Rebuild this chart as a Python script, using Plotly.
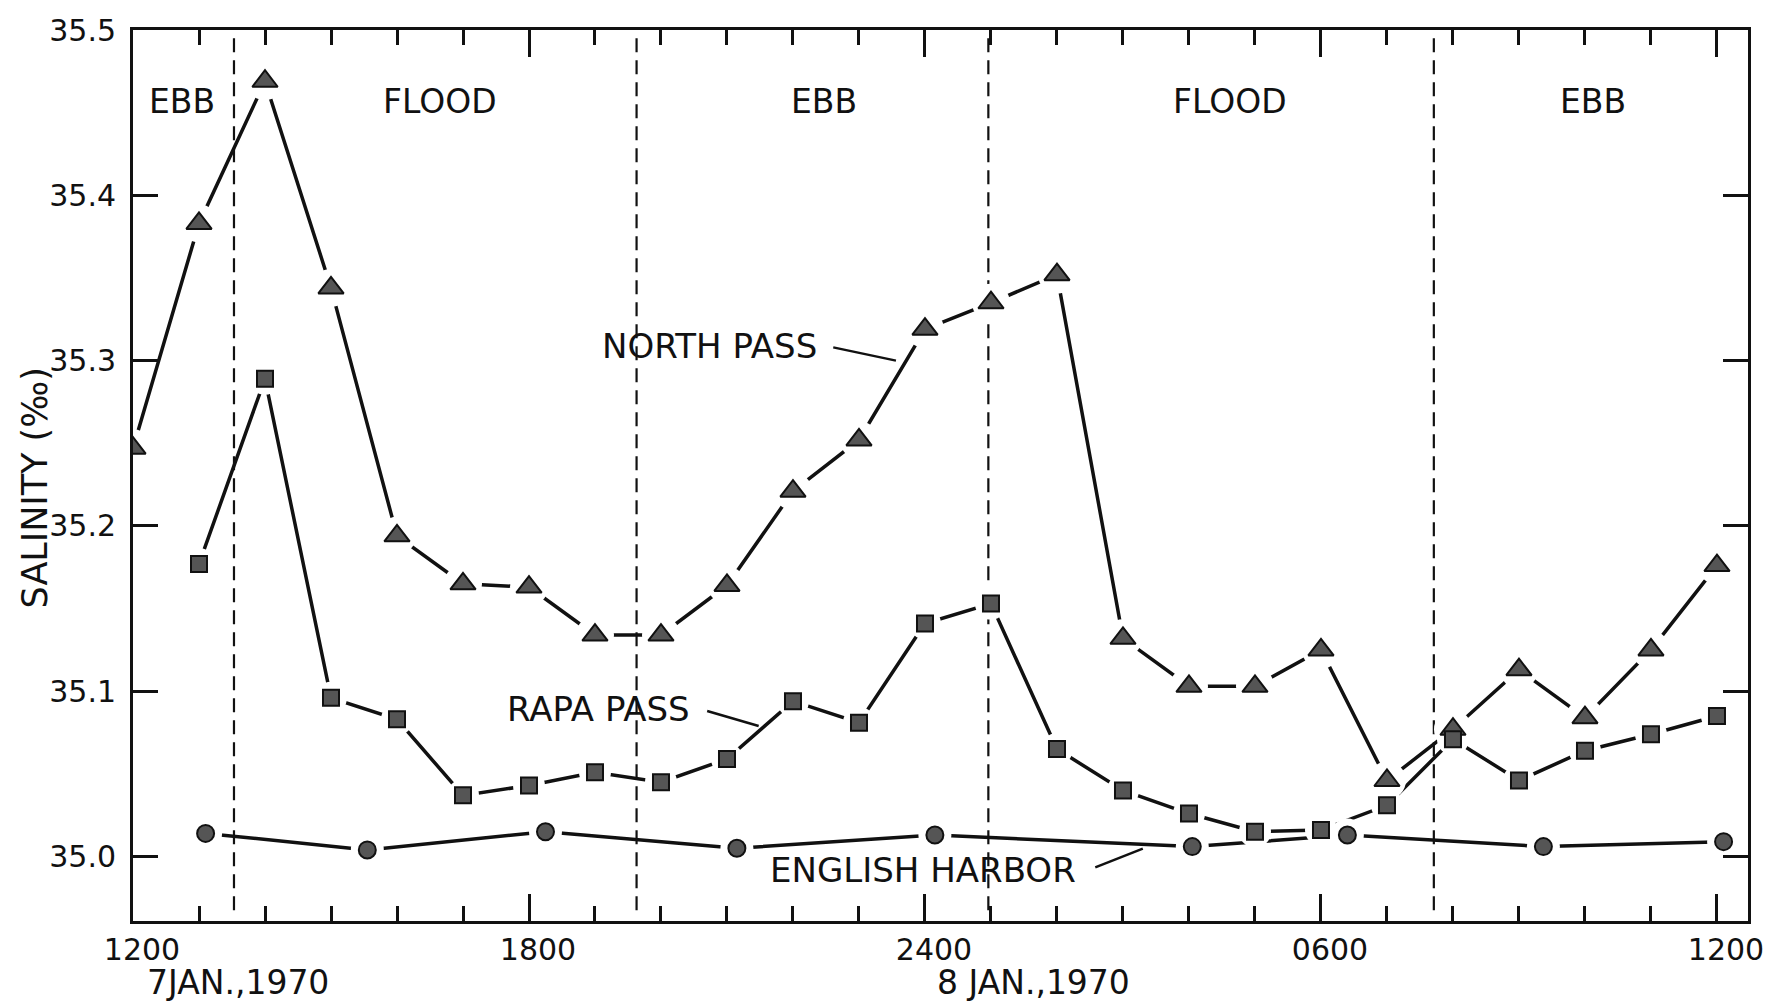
import plotly.graph_objects as go

# Hours after 1200 on 7 Jan 1970
north_hours = list(range(0, 25))
north_salinity = [35.247, 35.383, 35.469, 35.344, 35.194, 35.165, 35.163, 35.134,
                  35.134, 35.164, 35.221, 35.252, 35.319, 35.335, 35.352, 35.132,
                  35.103, 35.103, 35.125, 35.046, 35.077, 35.113, 35.084, 35.125,
                  35.176]

rapa_hours = list(range(1, 25))
rapa_salinity = [35.177, 35.289, 35.096, 35.083, 35.037, 35.043, 35.051, 35.045,
                 35.059, 35.094, 35.081, 35.141, 35.153, 35.065, 35.040, 35.026,
                 35.015, 35.016, 35.031, 35.071, 35.046, 35.064, 35.074, 35.085]

english_hours = [1.1, 3.55, 6.25, 9.15, 12.15, 16.05, 18.4, 21.37, 24.1]
english_salinity = [35.014, 35.004, 35.015, 35.005, 35.013, 35.006, 35.013,
                    35.006, 35.009]

# Turn of the tide (hours after 1200, 7 Jan)
tide_turns = [1.53, 7.63, 12.96, 19.71]
tide_phases = ["EBB", "FLOOD", "EBB", "FLOOD", "EBB"]

x_tickvals = [0, 6, 12, 18, 24]
x_ticktext = ["1200", "1800", "2400", "0600", "1200"]
y_tickvals = [35.0, 35.1, 35.2, 35.3, 35.4, 35.5]

FONT = "DejaVu Sans"
INK = "#111111"
FILL = "#555555"

series = [
    (north_hours, north_salinity, "triangle-up", 22),
    (rapa_hours, rapa_salinity, "square", 16),
    (english_hours, english_salinity, "circle", 17),
]

fig = go.Figure()

# connecting lines
for xs, ys, sym, size in series:
    fig.add_trace(go.Scatter(x=xs, y=ys, mode="lines",
                             line=dict(color=INK, width=3.5),
                             hoverinfo="skip", showlegend=False))
# white halos so the lines stop short of each station mark
for xs, ys, sym, size in series:
    fig.add_trace(go.Scatter(x=xs, y=ys, mode="markers",
                             marker=dict(symbol="circle", size=size + 16,
                                         color="white", line=dict(width=0)),
                             hoverinfo="skip", showlegend=False))
# station marks
for xs, ys, sym, size in series:
    fig.add_trace(go.Scatter(x=xs, y=ys, mode="markers",
                             marker=dict(symbol=sym, size=size, color=FILL,
                                         line=dict(color=INK, width=2)),
                             showlegend=False))

# dashed lines at the turn of the tide
for t in tide_turns:
    fig.add_shape(type="line", xref="x", yref="y", x0=t, x1=t,
                  y0=34.9675, y1=35.495, layer="below",
                  line=dict(color=INK, width=2.2, dash="14px,8px"))

# tide phase labels, centred in each interval
phase_centres = [0.74, 4.65, 10.47, 16.62, 22.12]
for label, xc in zip(tide_phases, phase_centres):
    fig.add_annotation(x=xc, y=35.457, xref="x", yref="y", text=label,
                       xanchor="center", yanchor="middle", showarrow=False,
                       font=dict(family=FONT, size=33, color=INK))

# series labels with leader lines
labels = [
    ("NORTH PASS", 8.74, 35.309, (10.61, 35.308, 11.56, 35.300)),
    ("RAPA PASS", 7.05, 35.089, (8.70, 35.088, 9.48, 35.079)),
    ("ENGLISH HARBOR", 11.97, 34.9916, (14.58, 34.9934, 15.30, 35.0048)),
]
for text, lx, ly, (ax0, ay0, ax1, ay1) in labels:
    fig.add_annotation(x=lx, y=ly, xref="x", yref="y", text=text, showarrow=False,
                       xanchor="center", yanchor="middle",
                       font=dict(family=FONT, size=34, color=INK))
    fig.add_shape(type="line", xref="x", yref="y", x0=ax0, y0=ay0, x1=ax1, y1=ay1,
                  line=dict(color=INK, width=2.5))

# date captions under the time axis
fig.add_annotation(x=1.59, y=-0.069, xref="x", yref="paper", text="7JAN.,1970",
                   xanchor="center", yanchor="middle", showarrow=False,
                   font=dict(family=FONT, size=33, color=INK))
fig.add_annotation(x=13.65, y=-0.069, xref="x", yref="paper", text="8 JAN.,1970",
                   xanchor="center", yanchor="middle", showarrow=False,
                   font=dict(family=FONT, size=33, color=INK))

# vertical axis title
fig.add_annotation(x=-0.061, y=0.486, xref="paper", yref="paper",
                   text="SALINITY (‰)", textangle=-90, showarrow=False,
                   xanchor="center", yanchor="middle",
                   font=dict(family=FONT, size=35, color=INK))

fig.update_xaxes(range=[0, 24.47], tickvals=x_tickvals, ticktext=x_ticktext,
                 ticks="inside", ticklen=27, tickwidth=2.5, tickcolor=INK,
                 minor=dict(dtick=1, tick0=0, ticks="inside", ticklen=15,
                            tickwidth=2.5, tickcolor=INK),
                 showline=True, linecolor=INK, linewidth=3, mirror="ticks",
                 showgrid=False, zeroline=False, ticklabelshift=9,
                 tickfont=dict(family=FONT, size=30, color=INK))
fig.update_yaxes(range=[34.961, 35.5], tickvals=y_tickvals, tickformat=".1f",
                 ticks="inside", ticklen=25, tickwidth=2.5, tickcolor=INK,
                 showline=True, linecolor=INK, linewidth=3, mirror="ticks",
                 showgrid=False, zeroline=False, ticklabelstandoff=8,
                 tickfont=dict(family=FONT, size=30, color=INK))

fig.update_layout(width=1779, height=1006,
                  margin=dict(l=133, r=31, t=24, b=85),
                  paper_bgcolor="white", plot_bgcolor="white",
                  showlegend=False)

fig.write_html("out.html")
